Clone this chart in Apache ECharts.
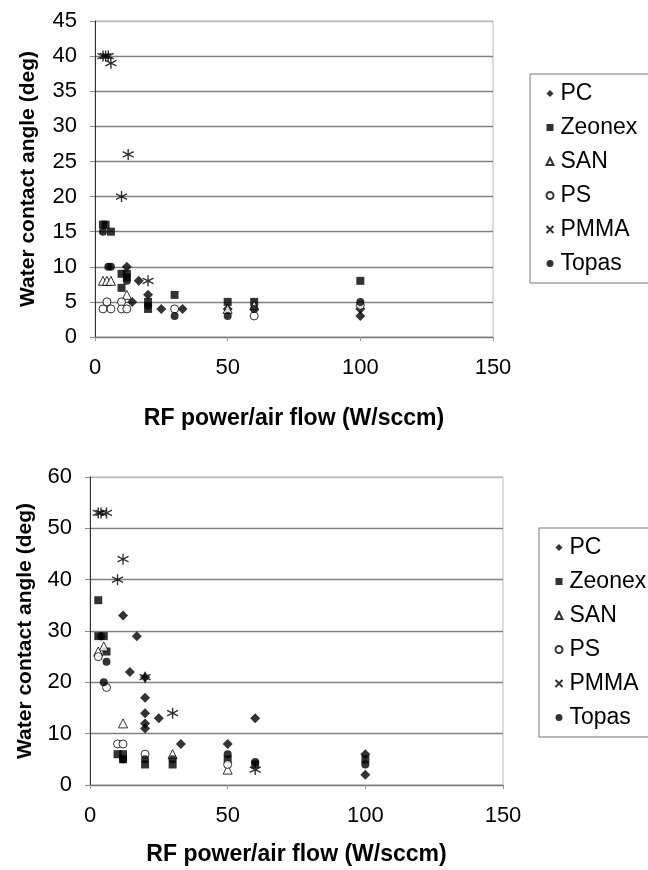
<!DOCTYPE html>
<html>
<head>
<meta charset="utf-8">
<script src="https://cdn.jsdelivr.net/npm/echarts@6/dist/echarts.min.js"></script>
<style>
html,body{margin:0;padding:0;background:#fff;}
#c{width:648px;height:870px;}
</style>
</head>
<body>
<div id="c"></div>
<script>
// ---- data (x: RF power/air flow, y: water contact angle) ----
const seriesNames = ['PC', 'Zeonex', 'SAN', 'PS', 'PMMA', 'Topas'];
const xTicks = [0, 50, 100, 150];
const yTicksTop = [0, 5, 10, 15, 20, 25, 30, 35, 40, 45];
const yTicksBottom = [0, 10, 20, 30, 40, 50, 60];

// top chart
const topPC     = [[12,10],[16.5,8],[20,6],[14,5],[25,4],[33,4],[50,4],[100,4],[100,3]];
const topZeonex = [[3,16],[4,16],[6,15],[10,9],[12,9],[12,8.5],[10,7],[30,6],[20,5],[20,4],[50,5],[60,5],[100,8]];
const topSAN    = [[3,8],[4.5,8],[6,8],[12,6],[50,4],[60,4.5]];
const topPS     = [[4.5,5],[3,4],[6,4],[10,5],[10,4],[12,4],[30,4],[60,3],[100,4.5]];
const topPMMA   = [[3,40],[4,40],[5,40],[6,39],[12.5,26],[10,20],[20,8]];
const topTopas  = [[3,15],[5,10],[6,10],[12,8],[20,4.5],[30,3],[50,3],[60,4],[100,5]];

// bottom chart
const botPC     = [[12,33],[17,29],[14.5,22],[20,21],[20,17],[20,14],[25,13],[20,12],[20,11],[33,8],[50,8],[60,13],[100,6],[100,2]];
const botZeonex = [[3,36],[3,29],[5,29],[6,26],[10,6],[12,6],[12,5],[20,4],[30,4],[50,5],[60,4],[100,5]];
const botSAN    = [[5,27],[3,26],[12,12],[30,6],[50,3]];
const botPS     = [[3,25],[6,19],[10,8],[12,8],[20,6],[50,4]];
const botPMMA   = [[3,53],[4,53],[6,53],[12,44],[10,40],[20,21],[30,14],[60,3]];
const botTopas  = [[4,29],[6,24],[5,20],[12,5],[20,5],[30,5],[50,6],[60,4.5],[100,4]];

const topData = [topPC, topZeonex, topSAN, topPS, topPMMA, topTopas];
const botData = [botPC, botZeonex, botSAN, botPS, botPMMA, botTopas];

// ---- styles ----
const FONT = 'Liberation Sans, Arial, sans-serif';
const asterisk = 'path://M5,0L5,10M0.67,2.5L9.33,7.5M0.67,7.5L9.33,2.5';
const cross = 'path://M0,0L10,10M0,10L10,0';
const solid = {color:'#000'};
const hollow = {color:'#fff', borderColor:'#000', borderWidth:1};
const styles = [
  {symbol:'diamond', size:10, item:solid},
  {symbol:'rect', size:8, item:solid},
  {symbol:'triangle', size:9, item:hollow},
  {symbol:'circle', size:8, item:hollow},
  {symbol:asterisk, size:11, item:{color:'none', borderColor:'#000', borderWidth:1.4}},
  {symbol:'circle', size:8, item:solid}
];

function makeSeries(dataSets, idx) {
  return dataSets.map((d, i) => ({
    type:'scatter', name:seriesNames[i], xAxisIndex:idx, yAxisIndex:idx,
    data:d, symbol:styles[i].symbol, symbolSize:styles[i].size,
    itemStyle:styles[i].item, emphasis:{disabled:true}, animation:false
  }));
}

function xAxis(idx, gap) {
  return {
    type:'value', gridIndex:idx, min:xTicks[0], max:xTicks[xTicks.length-1], interval:50,
    name:'RF power/air flow (W/sccm)', nameLocation:'middle', nameGap:gap,
    nameTextStyle:{fontFamily:FONT, fontSize:23, fontWeight:'bold', color:'#000'},
    axisLine:{show:true, lineStyle:{color:'#777', width:1}},
    axisTick:{show:true, length:5, lineStyle:{color:'#999', type:'dashed'}},
    axisLabel:{fontFamily:FONT, fontSize:22, color:'#000', margin:20},
    splitLine:{show:false}
  };
}
function yAxis(idx, max, interval, gap, n) {
  const cols = [];
  for (let k = 0; k < n; k++) cols.push(k === n-1 ? '#bbb' : '#808080');
  return {
    type:'value', gridIndex:idx, min:0, max:max, interval:interval,
    name:'Water contact angle (deg)', nameLocation:'middle', nameGap:gap, nameRotate:90,
    nameTextStyle:{fontFamily:FONT, fontSize:21, fontWeight:'bold', color:'#000'},
    axisLine:{show:true, lineStyle:{color:'#333', width:1}},
    axisTick:{show:true, length:5, inside:false, lineStyle:{color:'#888'}},
    axisLabel:{fontFamily:FONT, fontSize:22, color:'#000', margin:18},
    splitLine:{show:true, lineStyle:{color:cols, width:1.3}}
  };
}
function legend(idx, left, top) {
  return {
    orient:'vertical', left:left, top:top,
    data:seriesNames.map((nm, i) => i === 4 ? {name:nm, icon:cross} : {name:nm}),
    itemWidth:7, itemHeight:7, itemGap:11,
    padding:[8, 80, 8, 14],
    borderColor:'#777', borderWidth:1,
    textStyle:{fontFamily:FONT, fontSize:23, color:'#000', padding:[0,0,0,2]},
    selectedMode:false, inactiveColor:'#000'
  };
}

const chart = echarts.init(document.getElementById('c'), null, {renderer:'canvas'});
chart.setOption({
  backgroundColor:'#fff',
  animation:false,
  grid:[
    {left:95, top:21, width:398, height:316, show:true, borderColor:'#bbb', borderWidth:1},
    {left:90, top:477, width:413, height:308, show:true, borderColor:'#bbb', borderWidth:1}
  ],
  xAxis:[xAxis(0, 70), xAxis(1, 58)],
  yAxis:[yAxis(0, 45, 5, 56, yTicksTop.length), yAxis(1, 60, 10, 54, yTicksBottom.length)],
  legend:[legend(0, 530, 74), legend(1, 539, 528)],
  series:[...makeSeries(topData, 0), ...makeSeries(botData, 1)]
});
</script>
</body>
</html>
